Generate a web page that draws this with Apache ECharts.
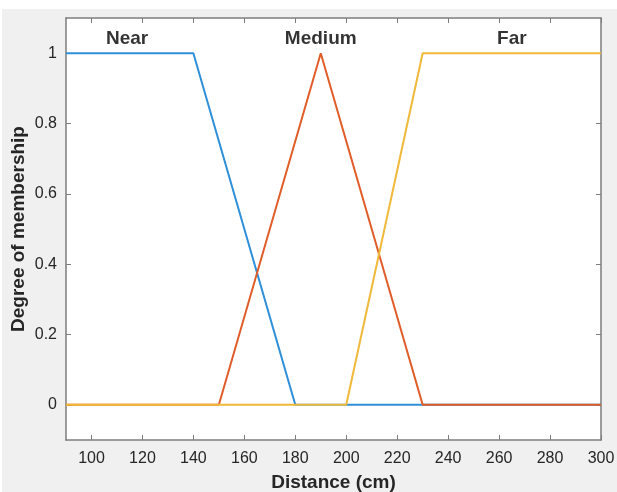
<!DOCTYPE html>
<html>
<head>
<meta charset="utf-8">
<script src="https://cdn.jsdelivr.net/npm/echarts@6/dist/echarts.min.js"></script>
<style>
  html, body { margin: 0; padding: 0; background: #fff; }
  #chart { width: 617px; height: 492px; }
</style>
</head>
<body>
<div id="chart"></div>
<script>
// membership functions, as [distance, degree] break points
const nearPts = [[90, 1], [140, 1], [180, 0], [300, 0]]
const mediumPts = [[90, 0], [150, 0], [190, 1], [230, 0], [300, 0]]
const farPts = [[90, 0], [200, 0], [230, 1], [300, 1]]

const setNames = ['Near', 'Medium', 'Far']
const setLabelX = [114, 190, 265]
const setLabelY = 1.04

const xTicks = [100, 120, 140, 160, 180, 200, 220, 240, 260, 280, 300]
const yTicks = [0, 0.2, 0.4, 0.6, 0.8, 1]

const colors = ['#2f8fd8', '#e05d2a', '#f0b93a']
const frameColor = '#7d7d7d'
const textColor = '#262626'

const chart = echarts.init(document.getElementById('chart'))

const lineSeries = (name, pts, color) => ({
  name,
  type: 'line',
  data: pts,
  showSymbol: false,
  symbol: 'none',
  lineStyle: { color, width: 2 },
  silent: true,
  animation: false
})

const xBase = {
  type: 'value',
  min: 90,
  max: 300,
  splitLine: { show: false },
  axisLine: { show: true, onZero: false, lineStyle: { color: frameColor, width: 1.5 } },
  axisTick: { show: true, inside: true, length: 5, customValues: xTicks, lineStyle: { color: frameColor } }
}
const yBase = {
  type: 'value',
  min: -0.1,
  max: 1.1,
  splitLine: { show: false },
  axisLine: { show: true, onZero: false, lineStyle: { color: frameColor, width: 1.5 } },
  axisTick: { show: true, inside: true, length: 5, customValues: yTicks, lineStyle: { color: frameColor } }
}

const option = {
  backgroundColor: '#fff',
  animation: false,
  graphic: [{
    type: 'rect',
    left: 2,
    top: 9,
    z: -10,
    shape: { width: 615, height: 483 },
    style: { fill: '#f0f0f0' }
  }],
  grid: {
    left: 66, right: 16, top: 18, bottom: 52,
    outerBoundsMode: 'none',
    containLabel: false,
    show: true, backgroundColor: '#fff', borderWidth: 0
  },
  xAxis: [
    {
      ...xBase,
      position: 'bottom',
      name: 'Distance (cm)',
      nameLocation: 'middle',
      nameGap: 33,
      nameMoveOverlap: false,
      nameTextStyle: { color: textColor, fontSize: 19, fontWeight: 'bold', fontFamily: 'Liberation Sans' },
      axisLabel: {
        customValues: xTicks, margin: 11,
        color: textColor, fontSize: 16, fontFamily: 'Liberation Sans'
      }
    },
    { ...xBase, position: 'top', axisLabel: { show: false } }
  ],
  yAxis: [
    {
      ...yBase,
      position: 'left',
      name: 'Degree of membership',
      nameLocation: 'middle',
      nameGap: 38,
      nameMoveOverlap: false,
      nameTextStyle: { color: textColor, fontSize: 19, fontWeight: 'bold', fontFamily: 'Liberation Sans' },
      axisLabel: {
        customValues: yTicks, margin: 9,
        color: textColor, fontSize: 16, fontFamily: 'Liberation Sans',
        formatter: v => (Math.round(v * 10) / 10).toString()
      }
    },
    { ...yBase, position: 'right', axisLabel: { show: false } }
  ],
  series: [
    lineSeries('Near', nearPts, colors[0]),
    lineSeries('Medium', mediumPts, colors[1]),
    lineSeries('Far', farPts, colors[2]),
    {
      type: 'scatter',
      symbol: 'circle',
      symbolSize: 1,
      itemStyle: { color: 'rgba(0,0,0,0)' },
      silent: true,
      data: setNames.map((n, i) => ({ name: n, value: [setLabelX[i], setLabelY] })),
      label: {
        show: true,
        position: 'inside',
        formatter: p => p.name,
        color: '#000',
        fontSize: 19,
        fontWeight: 'bold',
        fontFamily: 'Liberation Sans'
      }
    }
  ]
}

chart.setOption(option)
</script>
</body>
</html>
